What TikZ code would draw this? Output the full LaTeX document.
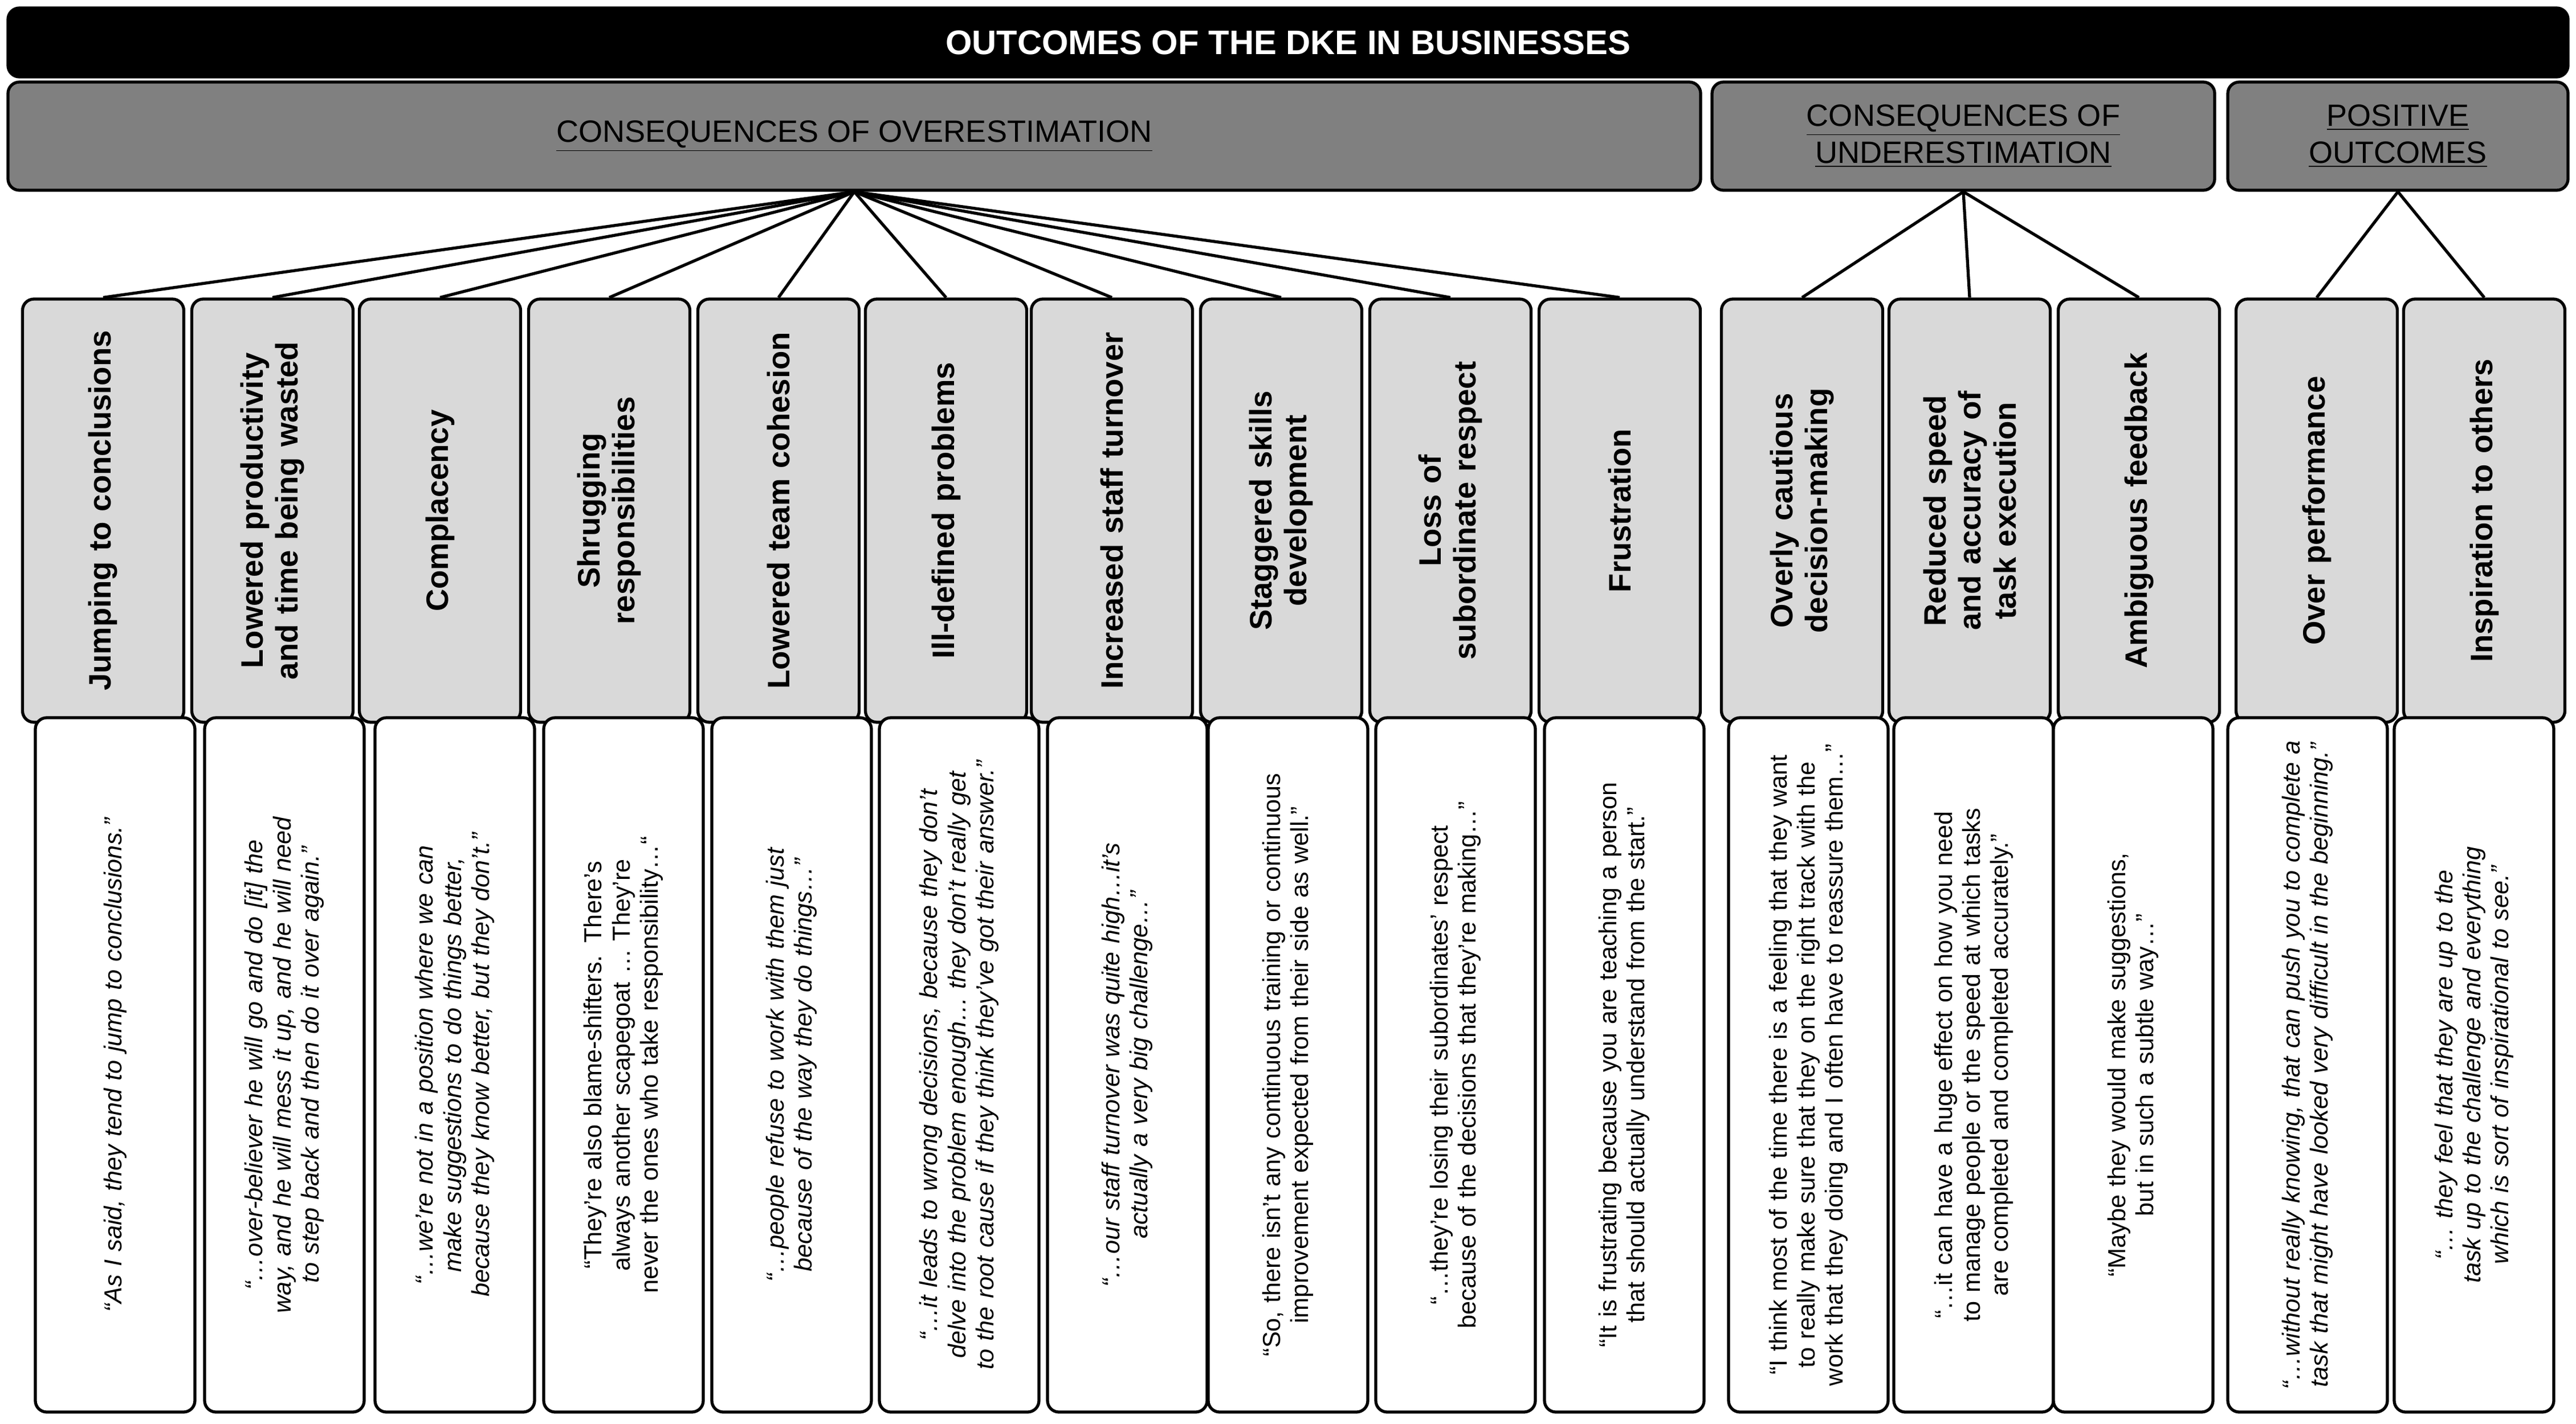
\documentclass[tikz,border=0pt]{standalone}
\usepackage{fontspec}
\setmainfont{Liberation Sans}
\hyphenpenalty=10000
\exhyphenpenalty=10000
\begin{document}
\begin{tikzpicture}[
  x=1cm,y=1cm,
  box/.style={draw=black,line width=1.5pt,rounded corners=0.2cm},
  titlebox/.style={box,fill=black,text=white,font=\fontsize{17}{20}\selectfont\bfseries,minimum width=44.92cm,minimum height=1.21cm},
  hdr/.style={box,fill=black!50,font=\fontsize{15.4}{18.5}\selectfont,align=center,minimum height=1.9cm},
  cat/.style={box,fill=black!15,rotate=90,minimum width=7.43cm,minimum height=2.83cm,text width=6.7cm,align=center,font=\fontsize{15.5}{17.5}\selectfont\bfseries},
  quote/.style={box,fill=white,rotate=90,minimum width=12.19cm,minimum height=2.80cm,text width=11.4cm,align=center,font=\fontsize{12.3}{14}\selectfont},
  link/.style={line width=1.5pt}
]
\useasboundingbox (0,0) rectangle (45.2,-24.99);
\node[titlebox] (title) at (22.6,-0.745) {OUTCOMES OF THE DKE IN BUSINESSES};
\node[hdr,minimum width=29.7cm] (h1) at (14.99,-2.39) {\underline{CONSEQUENCES OF OVERESTIMATION}};
\node[hdr,minimum width=8.82cm] (h2) at (34.45,-2.39) {\underline{CONSEQUENCES OF}\\\underline{UNDERESTIMATION}};
\node[hdr,minimum width=5.97cm] (h3) at (42.075,-2.39) {\underline{POSITIVE}\\\underline{OUTCOMES}};

\node[cat] (c1) at (1.81,-8.965) {Jumping to conclusions};
\node[cat] (c2) at (4.78,-8.965) {Lowered productivity and time being wasted};
\node[cat] (c3) at (7.72,-8.965) {Complacency};
\node[cat] (c4) at (10.69,-8.965) {Shrugging responsibilities};
\node[cat] (c5) at (13.66,-8.965) {Lowered team cohesion};
\node[cat] (c6) at (16.60,-8.965) {Ill-defined problems};
\node[cat] (c7) at (19.51,-8.965) {Increased staff turnover};
\node[cat] (c8) at (22.48,-8.965) {Staggered skills development};
\node[cat] (c9) at (25.45,-8.965) {Loss of subordinate respect};
\node[cat] (c10) at (28.42,-8.965) {Frustration};
\node[cat] (c11) at (31.62,-8.965) {Overly cautious decision-making};
\node[cat] (c12) at (34.56,-8.965) {Reduced speed and accuracy of task execution};
\node[cat] (c13) at (37.53,-8.965) {Ambiguous feedback};
\node[cat] (c14) at (40.65,-8.965) {Over performance};
\node[cat] (c15) at (43.59,-8.965) {Inspiration to others};

\node[quote] (q1) at (2.02,-18.695) {\itshape “As I said, they tend to jump to conclusions.”};
\node[quote] (q2) at (4.99,-18.695) {\itshape “…over-believer he will go and do [it] the way, and he will mess it up, and he will need to step back and then do it over again.”};
\node[quote] (q3) at (7.98,-18.695) {\itshape “…we’re not in a position where we can make suggestions to do things better, because they know better, but they don’t.”};
\node[quote] (q4) at (10.94,-18.695) {“They’re also blame-shifters. There’s always another scapegoat … They’re never the ones who take responsibility…“};
\node[quote] (q5) at (13.89,-18.695) {\itshape “…people refuse to work with them just because of the way they do things…”};
\node[quote] (q6) at (16.83,-18.695) {\itshape “…it leads to wrong decisions, because they don’t delve into the problem enough… they don’t really get to the root cause if they think they’ve got their answer.”};
\node[quote] (q7) at (19.78,-18.695) {\itshape “…our staff turnover was quite high…it’s actually a very big challenge…”};
\node[quote] (q8) at (22.60,-18.695) {“So, there isn’t any continuous training or continuous improvement expected from their side as well.”};
\node[quote] (q9) at (25.54,-18.695) {“…they’re losing their subordinates’ respect because of the decisions that they’re making…”};
\node[quote] (q10) at (28.50,-18.695) {“It is frustrating because you are teaching a person that should actually understand from the start.”};
\node[quote] (q11) at (31.73,-18.695) {“I think most of the time there is a feeling that they want to really make sure that they on the right track with the work that they doing and I often have to reassure them…”};
\node[quote] (q12) at (34.63,-18.695) {“…it can have a huge effect on how you need to manage people or the speed at which tasks are completed and completed accurately.”};
\node[quote] (q13) at (37.43,-18.695) {“Maybe they would make suggestions, but in such a subtle way…”};
\node[quote] (q14) at (40.49,-18.695) {\itshape “…without really knowing, that can push you to complete a task that might have looked very difficult in the beginning.”};
\node[quote] (q15) at (43.41,-18.695) {\itshape “… they feel that they are up to the task up to the challenge and everything which is sort of inspirational to see.”};

\foreach \i in {1,...,10} \draw[link] (h1.south) -- (c\i.east);
\foreach \i in {11,12,13} \draw[link] (h2.south) -- (c\i.east);
\foreach \i in {14,15} \draw[link] (h3.south) -- (c\i.east);
\end{tikzpicture}
\end{document}
